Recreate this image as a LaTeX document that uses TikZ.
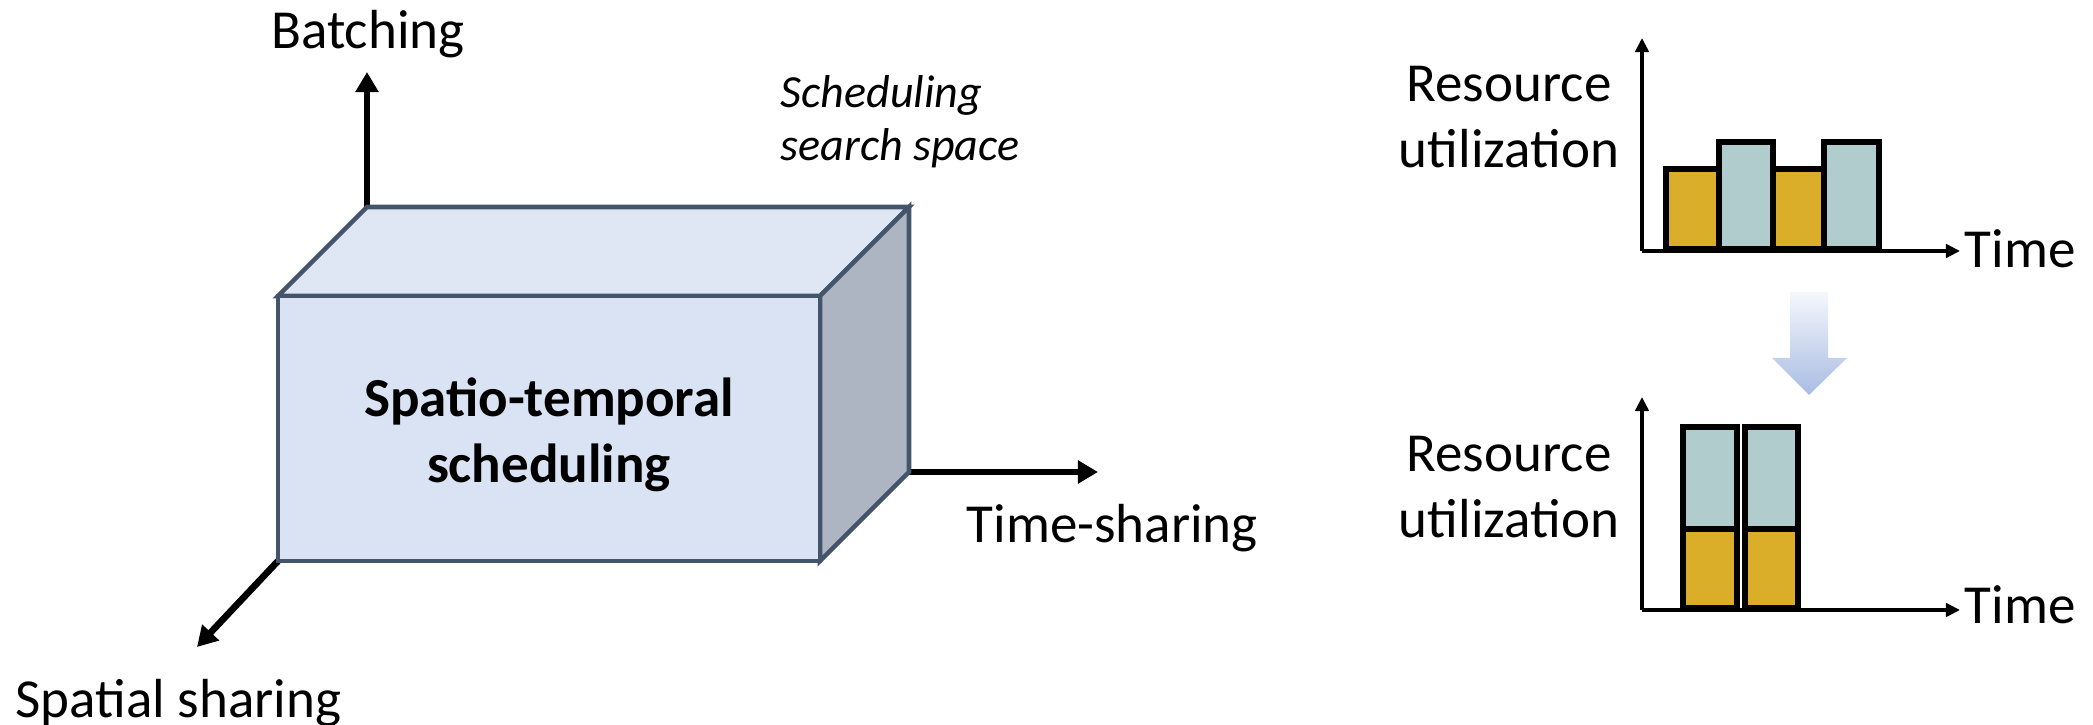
\documentclass[tikz,border=0pt]{standalone}
\usepackage{fontspec}
\setmainfont{Carlito}
\usetikzlibrary{arrows.meta}
\definecolor{boxline}{HTML}{44546A}
\definecolor{frontfill}{HTML}{DAE3F3}
\definecolor{topfill}{HTML}{E0E7F4}
\definecolor{sidefill}{HTML}{ADB5C3}
\definecolor{baryellow}{HTML}{DBAE2A}
\definecolor{barteal}{HTML}{B1CCCD}
\definecolor{arrowlight}{HTML}{F4F7FC}
\definecolor{arrowblue}{HTML}{A9BCE3}
\begin{document}
\begin{tikzpicture}[x=0.01cm,y=-0.01cm,
  lbl/.style={inner sep=0pt, font=\fontsize{15.65}{19}\selectfont},
  axisarrow/.style={line width=1.9pt, -{Triangle[length=5.7pt,width=6.3pt]}},
  chartaxis/.style={line width=1.25pt, -{Triangle[length=4pt,width=3.8pt]}},
  bar/.style={draw=black, line width=1.45pt},
  face/.style={draw=boxline, line width=1.3pt, line join=miter}
]
\useasboundingbox (0,0) rectangle (2093,725);

% ---- cube ----
\coordinate (F1) at (278,296);
\coordinate (F2) at (820,296);
\coordinate (F3) at (820,561);
\coordinate (F4) at (278,561);
\coordinate (B1) at (367,207);
\coordinate (B2) at (909,207);
\coordinate (B3) at (909,472);

\draw[axisarrow] (B1) -- (367,72) coordinate (batchtip);
\draw[axisarrow] (B3) -- (1098,472) coordinate (timetip);
\draw[axisarrow] (F4) -- (197,647) coordinate (spatialtip);

\filldraw[face, fill=topfill] (F1) -- (B1) -- (B2) -- (F2) -- cycle;
\filldraw[face, fill=sidefill] (F2) -- (B2) -- (B3) -- (F3) -- cycle;
\filldraw[face, fill=frontfill] (F1) rectangle (F3);

% multi-line nodes: anchor base = baseline of last line
\node[lbl, font=\fontsize{15.65}{18.8}\selectfont\bfseries, align=center, anchor=base] (st) at (549,483) {Spatio-temporal\\scheduling};

\node[lbl, anchor=base] (batching) at (368,49) {Batching};
\node[lbl, anchor=base west] (timesharing) at (966,543) {Time-sharing};
\node[lbl, anchor=base west] (spatial) at (15,718) {Spatial sharing};
\node[lbl, font=\fontsize{13.1}{15.1}\selectfont\itshape, align=left, anchor=base west] (search) at (780,161) {Scheduling\\search space};

% ---- chart 1 ----
\coordinate (O1) at (1642,251);
\filldraw[bar, fill=baryellow] (1666,169) rectangle (1719,249);
\filldraw[bar, fill=barteal] (1719,142) rectangle (1773,249);
\filldraw[bar, fill=baryellow] (1773,169) rectangle (1824,249);
\filldraw[bar, fill=barteal] (1824,142) rectangle (1879,249);
\draw[chartaxis] (O1) -- (1642,38) coordinate (y1tip);
\draw[chartaxis] (O1) -- (1960,251) coordinate (x1tip);
\node[lbl, align=center, anchor=base] (ru1) at (1509,168) {Resource\\utilization};
\node[lbl, anchor=base west] (time1) at (1964,268) {Time};

% ---- transition arrow ----
\shade[top color=arrowlight, bottom color=arrowblue]
  (1790,292) -- (1828,292) -- (1828,358) -- (1847,358) -- (1809,395) -- (1772,358) -- (1790,358) -- cycle;

% ---- chart 2 ----
\coordinate (O2) at (1642,610);
\filldraw[bar, fill=baryellow] (1683,529) rectangle (1737,608);
\filldraw[bar, fill=barteal] (1683,427) rectangle (1737,529);
\filldraw[bar, fill=baryellow] (1745,529) rectangle (1798,608);
\filldraw[bar, fill=barteal] (1745,427) rectangle (1798,529);
\draw[chartaxis] (O2) -- (1642,397) coordinate (y2tip);
\draw[chartaxis] (O2) -- (1960,610) coordinate (x2tip);
\node[lbl, align=center, anchor=base] (ru2) at (1509,538) {Resource\\utilization};
\node[lbl, anchor=base west] (time2) at (1964,624) {Time};
\end{tikzpicture}
\end{document}
